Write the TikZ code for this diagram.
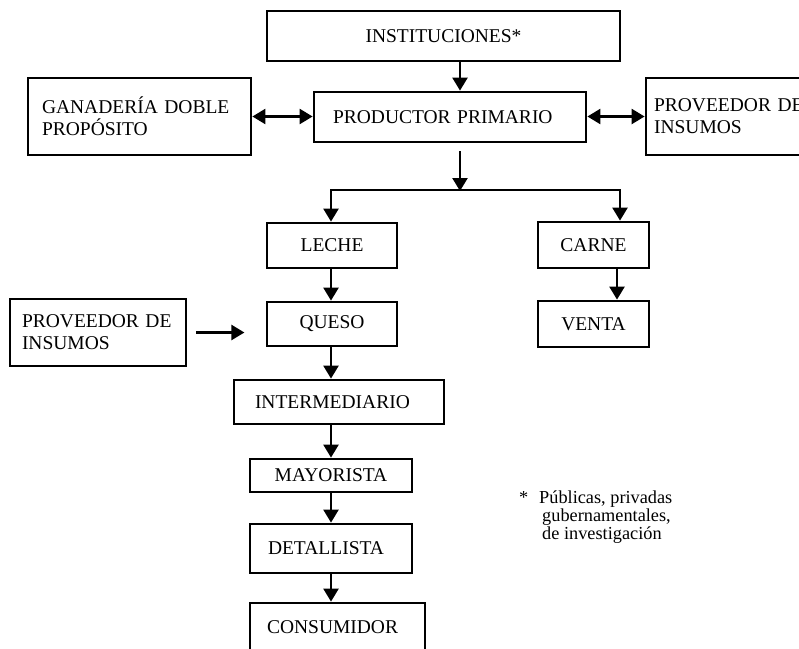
\documentclass[tikz,border=0pt]{standalone}
\usepackage{fontspec}
\setmainfont{Liberation Serif}
\usetikzlibrary{arrows.meta}
\tikzset{
  box/.style={draw, line width=2.8pt, inner sep=0pt, font=\fontsize{19.5}{22}\selectfont},
  lbox/.style={box, align=left},
  tip/.tip={Triangle[width=15pt,length=13pt]},
  arr/.style={line width=2.4pt, -tip},
  darr/.style={line width=2.4pt, tip-tip},
}
\begin{document}
\begin{tikzpicture}[x=1pt,y=-1pt]
\useasboundingbox (0,0) rectangle (799,648);
\clip (0,0) rectangle (799,648);
% boxes
\node[box, minimum width=353pt, minimum height=50pt] (inst) at (443.5,36) {INSTITUCIONES*};
\node[lbox, minimum width=272pt, minimum height=50pt, text width=234pt] (prod) at (450,117) {\mbox{PRODUCTOR PRIMARIO}};
\node[lbox, minimum width=223pt, minimum height=77pt, text width=195pt] (gan) at (139.5,116.5) {\mbox{GANADERÍA DOBLE}\\\mbox{PROPÓSITO}};
\node[lbox, minimum width=224pt, minimum height=77pt, text width=208pt] (provR) at (758,116.5) {\mbox{PROVEEDOR DE}\\\mbox{INSUMOS}};
\node[box, minimum width=130pt, minimum height=45pt] (leche) at (332,245.5) {LECHE};
\node[box, minimum width=130pt, minimum height=44pt] (queso) at (332,324) {QUESO};
\node[box, minimum width=111pt, minimum height=46pt] (carne) at (593.5,245) {CARNE};
\node[box, minimum width=111pt, minimum height=46pt] (venta) at (593.5,324) {VENTA};
\node[lbox, minimum width=176pt, minimum height=67pt, text width=152pt] (provL) at (98,332.5) {\mbox{PROVEEDOR DE}\\\mbox{INSUMOS}};
\node[lbox, minimum width=210pt, minimum height=44pt, text width=168pt] (interm) at (339,402) {\mbox{INTERMEDIARIO}};
\node[box, minimum width=162pt, minimum height=33pt] (mayor) at (331,475.5) {MAYORISTA};
\node[lbox, minimum width=162pt, minimum height=49pt, text width=126pt] (detal) at (331,548.5) {\mbox{DETALLISTA}};
\node[lbox, minimum width=175pt, minimum height=49pt, text width=141pt] (consum) at (337.5,627.5) {\mbox{CONSUMIDOR}};
% footnote
\node[anchor=north west, inner sep=0pt, align=left, font=\fontsize{18.3}{17.8}\selectfont] (nota) at (519,491)
  {\makebox[20pt][l]{*}Públicas, privadas\\\hspace*{23pt}gubernamentales,\\\hspace*{23pt}de investigación};
% guide coordinates
\coordinate (cA) at (460,0);
\coordinate (cL) at (331,0);
\coordinate (cR) at (620,0);
\coordinate (cV) at (617,0);
\coordinate (ps) at (460,151);
\coordinate (br) at (460,190);
% connectors
\draw[arr] (cA |- inst.south) -- (cA |- prod.north);
\draw[darr] (gan.east) -- (gan.east -| prod.west);
\draw[darr] (prod.east |- provR.west) -- (provR.west);
\draw[arr] (ps) -- ([yshift=-1pt]br);
\draw[darr] (cL |- leche.north) |- (cR |- br) -- (cR |- carne.north);
\draw[arr] (cL |- leche.south) -- (cL |- queso.north);
\draw[arr] (cV |- carne.south) -- (cV |- venta.north);
\draw[arr] ([xshift=9pt]provL.east) -- ([xshift=57pt]provL.east);
\draw[arr] (cL |- queso.south) -- (cL |- interm.north);
\draw[arr] (cL |- interm.south) -- (cL |- mayor.north);
\draw[arr] (cL |- mayor.south) -- (cL |- detal.north);
\draw[arr] (cL |- detal.south) -- (cL |- consum.north);
\end{tikzpicture}
\end{document}
